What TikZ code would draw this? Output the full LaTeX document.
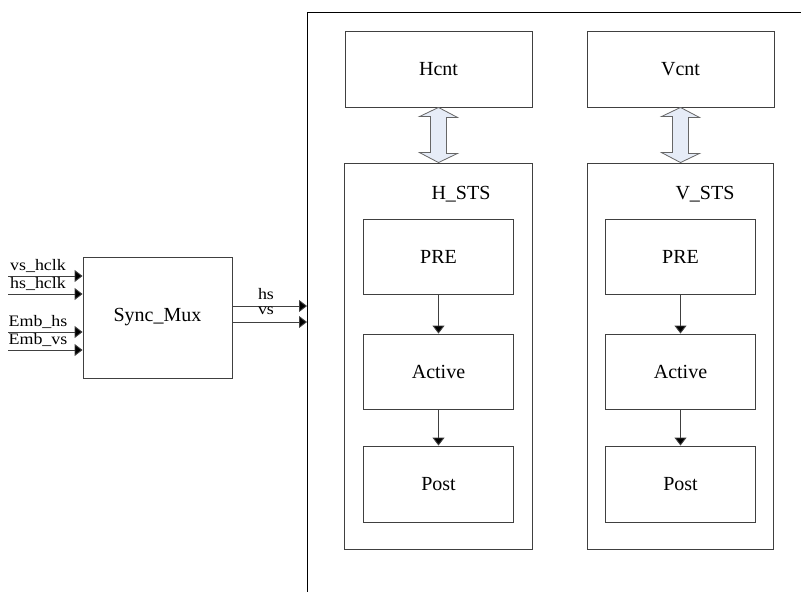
\documentclass[tikz,border=0pt]{standalone}
\usepackage{fontspec}
\setmainfont{Liberation Serif}
\newfontfamily\lblfont[FakeStretch=1.12]{Liberation Serif}
\usetikzlibrary{arrows.meta}
\definecolor{dblfill}{HTML}{E6ECF7}
\definecolor{lineclr}{HTML}{404040}
\begin{document}
\begin{tikzpicture}[x=1pt,y=-1pt,
  box/.style={draw=lineclr, line width=0.9pt, fill=white, inner sep=0pt, font=\fontsize{20}{22}\selectfont},
  lbl/.style={font=\lblfont\fontsize{16}{17}\selectfont, inner sep=0pt},
  sig/.style={draw=lineclr, line width=0.9pt, -{Triangle[length=8pt,width=12pt,fill=black]}},
  dbl/.style={draw=lineclr!80, fill=dblfill, line width=0.8pt, line join=miter}]
\useasboundingbox (0,0) rectangle (801,592);
% outer container (cut at the right and bottom)
\coordinate (obl) at (307,592);
\coordinate (otl) at (307,12);
\coordinate (otr) at (801,12);
\draw[draw=black, line width=0.9pt] (obl) -- (otl) -- (otr);
% Sync_Mux
\node[box, minimum width=149pt, minimum height=121pt] (sync) at (157.5,317.5) {Sync\_Mux};
% inputs
\coordinate (i1) at (8,276);
\coordinate (i2) at (8,294);
\coordinate (i3) at (8,332);
\coordinate (i4) at (8,350);
\draw[sig] (i1) -- (i1 -| sync.west);
\draw[sig] (i2) -- (i2 -| sync.west);
\draw[sig] (i3) -- (i3 -| sync.west);
\draw[sig] (i4) -- (i4 -| sync.west);
\node[lbl] (l1) at (38,266) {vs\_hclk};
\node[lbl] (l2) at (38,284) {hs\_hclk};
\node[lbl] (l3) at (38,322) {Emb\_hs};
\node[lbl] (l4) at (38,340) {Emb\_vs};
% outputs
\coordinate (ohs) at (307,306);
\coordinate (ovs) at (307,322);
\draw[sig] (ohs -| sync.east) -- (ohs);
\draw[sig] (ovs -| sync.east) -- (ovs);
\node[lbl] (lhs) at (266,294) {hs};
\node[lbl] (lvs) at (266,311) {vs};
% counters
\node[box, minimum width=187pt, minimum height=76pt] (hcnt) at (438.5,69) {Hcnt};
\node[box, minimum width=187pt, minimum height=76pt] (vcnt) at (680.5,69) {Vcnt};
% state machines
\node[box, minimum width=188pt, minimum height=386pt] (hsts) at (438.5,356) {};
\node[box, minimum width=186pt, minimum height=386pt] (vsts) at (680.5,356) {};
\node[box, draw=none, fill=none] (hstsl) at (461,194) {H\_STS};
\node[box, draw=none, fill=none] (vstsl) at (705,194) {V\_STS};
\node[box, minimum width=150pt, minimum height=75pt] (hpre) at (438.5,257) {PRE};
\node[box, minimum width=150pt, minimum height=75pt] (hact) at (438.5,371.5) {Active};
\node[box, minimum width=150pt, minimum height=76pt] (hpost) at (438.5,484) {Post};
\node[box, minimum width=150pt, minimum height=75pt] (vpre) at (680.5,257) {PRE};
\node[box, minimum width=150pt, minimum height=75pt] (vact) at (680.5,371.5) {Active};
\node[box, minimum width=150pt, minimum height=76pt] (vpost) at (680.5,484) {Post};
\draw[sig] (hpre) -- (hact);
\draw[sig] (hact) -- (hpost);
\draw[sig] (vpre) -- (vact);
\draw[sig] (vact) -- (vpost);
% double arrows
\draw[dbl] (hcnt.south) -- ++(19,10) -- ++(-11,0) -- ++(0,36) -- ++(11,0) -- (hsts.north)
  -- ++(-19,-10) -- ++(11,0) -- ++(0,-36) -- ++(-11,0) -- cycle;
\draw[dbl] (vcnt.south) -- ++(19,10) -- ++(-11,0) -- ++(0,36) -- ++(11,0) -- (vsts.north)
  -- ++(-19,-10) -- ++(11,0) -- ++(0,-36) -- ++(-11,0) -- cycle;
\end{tikzpicture}
\end{document}
